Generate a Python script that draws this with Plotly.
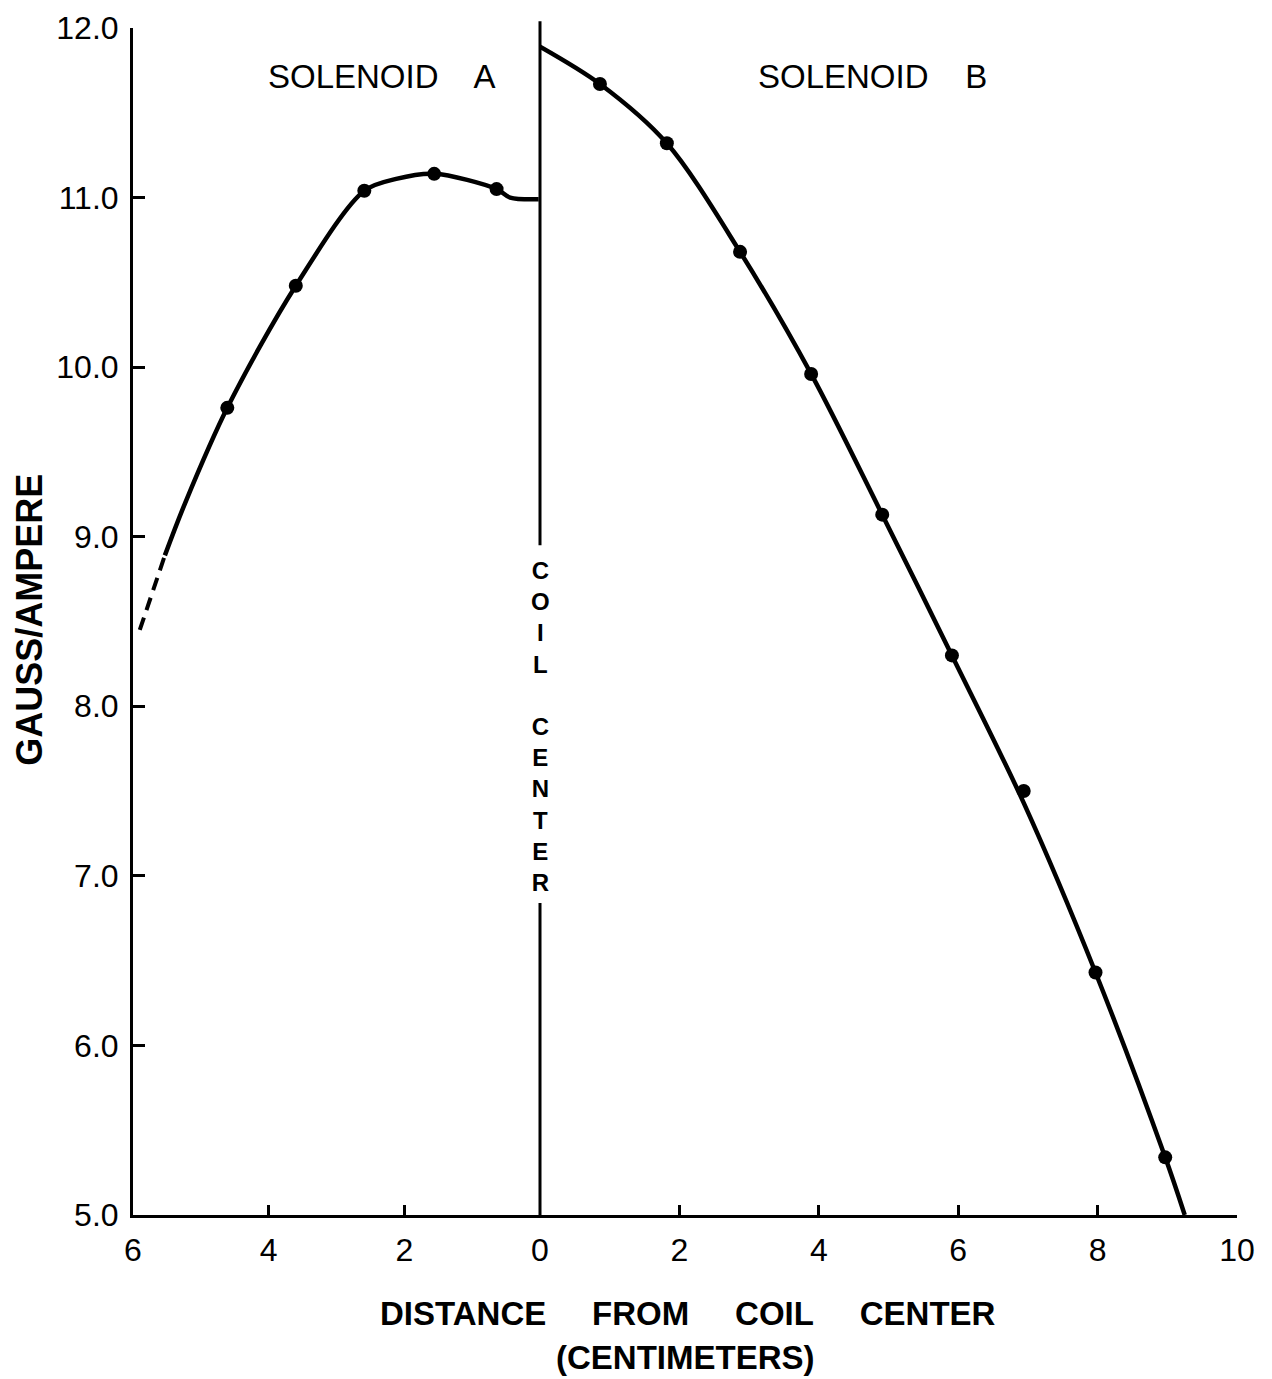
import plotly.graph_objects as go

# ---------------- data ----------------
# Solenoid A (distance measured to the left of the coil centre, cm)
a_dot_x = [4.61, 3.60, 2.59, 1.56, 0.64]
a_dot_y = [9.76, 10.48, 11.04, 11.14, 11.05]
a_curve_x = [5.53, 5.23, 4.61, 3.60, 2.59, 2.12, 1.56, 0.64, 0.44, 0.02]
a_curve_y = [8.89, 9.20, 9.76, 10.48, 11.04, 11.11, 11.14, 11.05, 11.00, 10.99]
a_dash_x = [5.90, 5.53]
a_dash_y = [8.45, 8.89]

# Solenoid B (distance to the right of the coil centre, cm)
b_dot_x = [0.86, 1.82, 2.87, 3.89, 4.91, 5.91, 6.94, 7.97, 8.97]
b_dot_y = [11.67, 11.32, 10.68, 9.96, 9.13, 8.30, 7.50, 6.43, 5.34]
b_curve_x = [0.0, 0.86, 1.82, 2.87, 3.89, 4.91, 5.91, 6.94, 7.97, 8.97, 9.25]
b_curve_y = [11.89, 11.67, 11.32, 10.68, 9.96, 9.13, 8.30, 7.43, 6.43, 5.34, 5.00]

# coil-centre marker line segments (gauss/ampere values)
center_upper = [12.04, 8.95]
center_lower = [6.84, 5.00]

y_ticks = [5, 6, 7, 8, 9, 10, 11, 12]
y_ticktext = ["5.0", "6.0", "7.0", "8.0", "9.0", "10.0", "11.0", "12.0"]
xa_ticks = [6, 4, 2]
xb_ticks = [0, 2, 4, 6, 8, 10]

Y_MIN, Y_MAX = 5.0, 12.0
FONT = "Liberation Sans, Arial, sans-serif"
BLACK = "#000000"

# ---------------- figure ----------------
W, H = 1272, 1379
L, R, T, B = 125, 43, 20, 172
split = (532 - L) / (W - L - R)  # domain boundary = coil centre

fig = go.Figure()

line_style = dict(color=BLACK, width=4.5, shape="spline", smoothing=0.9)
fig.add_trace(go.Scatter(x=a_curve_x, y=a_curve_y, mode="lines", line=line_style,
                         xaxis="x", yaxis="y", showlegend=False, hoverinfo="skip"))
fig.add_trace(go.Scatter(x=a_dash_x, y=a_dash_y, mode="lines",
                         line=dict(color=BLACK, width=4, dash="13px,8px"),
                         xaxis="x", yaxis="y", showlegend=False, hoverinfo="skip"))
fig.add_trace(go.Scatter(x=a_dot_x, y=a_dot_y, mode="markers",
                         marker=dict(color=BLACK, size=14),
                         xaxis="x", yaxis="y", showlegend=False, name="Solenoid A"))

fig.add_trace(go.Scatter(x=b_curve_x, y=b_curve_y, mode="lines", line=line_style,
                         xaxis="x2", yaxis="y", showlegend=False, hoverinfo="skip"))
fig.add_trace(go.Scatter(x=b_dot_x, y=b_dot_y, mode="markers",
                         marker=dict(color=BLACK, size=14),
                         xaxis="x2", yaxis="y", showlegend=False, name="Solenoid B"))


def ypaper(v):
    return (v - Y_MIN) / (Y_MAX - Y_MIN)


shapes = []
for seg in (center_upper, center_lower):
    shapes.append(dict(type="line", xref="paper", yref="paper",
                       x0=split, x1=split, y0=ypaper(seg[0]), y1=ypaper(seg[1]),
                       line=dict(color=BLACK, width=3)))

NB = "\u00a0"
annotations = [
    dict(text="SOLENOID" + NB * 3 + " A", x=2.33, y=11.712, xref="x", yref="y",
         xanchor="center", yanchor="middle", showarrow=False,
         font=dict(family=FONT, size=33, color=BLACK)),
    dict(text="SOLENOID" + NB * 3 + " B", x=4.77, y=11.712, xref="x2", yref="y",
         xanchor="center", yanchor="middle", showarrow=False,
         font=dict(family=FONT, size=33, color=BLACK)),
    dict(text="<b>GAUSS/AMPERE</b>", x=0, xshift=30 - 133, y=ypaper(8.51),
         xref="paper", yref="paper", textangle=-90, showarrow=False,
         xanchor="center", yanchor="middle",
         font=dict(family=FONT, size=36, color=BLACK)),
    dict(text="<b>DISTANCE" + NB * 4 + " FROM" + NB * 4 + " COIL" + NB * 4 + " CENTER</b>",
         x=(688 - 133) / (W - L - R), y=0, yshift=-(1313 - 1215),
         xref="paper", yref="paper", showarrow=False,
         xanchor="center", yanchor="middle",
         font=dict(family=FONT, size=33, color=BLACK)),
    dict(text="<b>(CENTIMETERS)</b>",
         x=(685 - 133) / (W - L - R), y=0, yshift=-(1357 - 1215),
         xref="paper", yref="paper", showarrow=False,
         xanchor="center", yanchor="middle",
         font=dict(family=FONT, size=33, color=BLACK)),
    # vertical "COIL CENTER" label, one letter per row
    dict(text="<b>" + "<br>".join(list("COIL") + [""] + list("CENTER")) + "</b>",
         x=0, y=7.878, xref="x2", yref="y", showarrow=False,
         xanchor="center", yanchor="middle", align="center",
         font=dict(family=FONT, size=24, color=BLACK)),
]

axis_common = dict(showgrid=False, zeroline=False, showline=True, linecolor=BLACK,
                   linewidth=3, ticks="inside", tickcolor=BLACK, tickwidth=2.5,
                   ticklen=10, tickfont=dict(family=FONT, size=32, color=BLACK),
                   ticklabelstandoff=5, automargin=False, ticklabeloverflow="allow")

fig.update_layout(
    width=W, height=H,
    margin=dict(l=L, r=R, t=T, b=B, pad=0, autoexpand=False),
    paper_bgcolor="white", plot_bgcolor="white",
    xaxis=dict(domain=[0, split], range=[6, 0], anchor="y",
               tickmode="array", tickvals=xa_ticks, ticktext=[str(v) for v in xa_ticks],
               **axis_common),
    xaxis2=dict(domain=[split, 1], range=[0, 10], anchor="y",
                tickmode="array", tickvals=xb_ticks, ticktext=[str(v) for v in xb_ticks],
                **axis_common),
    yaxis=dict(range=[Y_MIN, Y_MAX], anchor="x", showgrid=False, zeroline=False,
               showline=True, linecolor=BLACK, linewidth=3, ticks="inside",
               tickcolor=BLACK, tickwidth=2.5, ticklen=12, automargin=False,
               ticklabeloverflow="allow",
               tickmode="array", tickvals=y_ticks, ticktext=y_ticktext,
               tickfont=dict(family=FONT, size=32, color=BLACK), ticklabelstandoff=5),
    shapes=shapes,
    annotations=annotations,
    showlegend=False,
)

fig.write_html("out.html")
